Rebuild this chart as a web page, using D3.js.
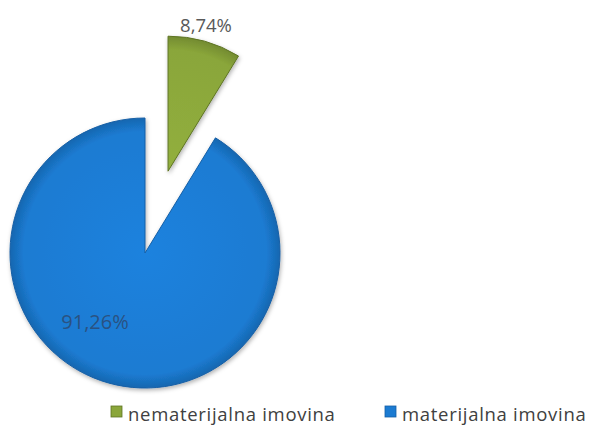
<!DOCTYPE html>
<html>
<head>
<meta charset="utf-8">
<script src="https://cdn.jsdelivr.net/npm/d3@7"></script>
<style>
  body { margin: 0; background: #fff; }
</style>
</head>
<body>
<div id="chart-area"></div>
<script>
// podaci
var categories = ["nematerijalna imovina", "materijalna imovina"];
var values = [8.74, 91.26];
var labels = ["8,74%", "91,26%"];
var colors = ["#8aa63a", "#1b7bd2"];
var edgeColors = ["#5e7423", "#155fa6"];

var width = 603, height = 428;
var cx = 145, cy = 253, radius = 135, explode = 85;

var svg = d3.select("#chart-area").append("svg")
    .attr("width", width)
    .attr("height", height)
    .style("font-family", "'Open Sans', sans-serif");

// gradijenti za malo "bevel" efekta
var defs = svg.append("defs");
colors.forEach(function(c, i) {
    var g = defs.append("radialGradient")
        .attr("id", "grad" + i)
        .attr("gradientUnits", "userSpaceOnUse")
        .attr("cx", 0).attr("cy", 0).attr("r", radius);
    g.append("stop").attr("offset", "0%").attr("stop-color", d3.color(c).brighter(0.15));
    g.append("stop").attr("offset", "90%").attr("stop-color", c);
    g.append("stop").attr("offset", "100%").attr("stop-color", d3.color(c).darker(0.5));
});
var shadow = defs.append("filter").attr("id", "shadow")
    .attr("x", "-20%").attr("y", "-20%").attr("width", "140%").attr("height", "140%");
shadow.append("feDropShadow").attr("dx", 1).attr("dy", 2).attr("stdDeviation", 2)
    .attr("flood-color", "#000").attr("flood-opacity", 0.3);

var pie = d3.pie().sort(null).value(function(d) { return d; });
var arcs = pie(values);
var arc = d3.arc().innerRadius(0).outerRadius(radius);

var g = svg.append("g").attr("transform", "translate(" + cx + "," + cy + ")");

var slices = g.selectAll("g.slice")
    .data(arcs)
    .enter().append("g")
    .attr("class", "slice")
    .attr("transform", function(d, i) {
        if (i !== 0) return null;
        var mid = (d.startAngle + d.endAngle) / 2;
        return "translate(" + (Math.sin(mid) * explode) + "," + (-Math.cos(mid) * explode) + ")";
    });

slices.append("path")
    .attr("d", arc)
    .attr("fill", function(d, i) { return "url(#grad" + i + ")"; })
    .attr("stroke", function(d, i) { return edgeColors[i]; })
    .attr("stroke-width", 1)
    .attr("filter", "url(#shadow)");

// oznake
slices.filter(function(d, i) { return i === 0; })
    .append("text")
    .attr("x", function(d) { return Math.sin((d.startAngle + d.endAngle) / 2) * (radius + 16) - 3; })
    .attr("y", function(d) { return -Math.cos((d.startAngle + d.endAngle) / 2) * (radius + 16) + 6; })
    .attr("text-anchor", "middle")
    .attr("font-size", 18.5)
    .attr("fill", "#595959")
    .text(labels[0]);

slices.filter(function(d, i) { return i === 1; })
    .append("text")
    .attr("x", -50)
    .attr("y", 76)
    .attr("text-anchor", "middle")
    .attr("font-size", 20)
    .attr("fill", "#2a5282")
    .text(labels[1]);

// legenda
var legendX = [111, 385];
var legend = svg.selectAll("g.legend")
    .data(categories)
    .enter().append("g")
    .attr("class", "legend")
    .attr("transform", function(d, i) { return "translate(" + legendX[i] + ",411)"; });

legend.append("rect")
    .attr("x", 0).attr("y", -5)
    .attr("width", 11).attr("height", 11)
    .attr("fill", function(d, i) { return colors[i]; })
    .attr("stroke", function(d, i) { return edgeColors[i]; })
    .attr("stroke-width", 0.8);

legend.append("text")
    .attr("x", 17)
    .attr("y", 10)
    .attr("font-size", 18.5)
    .attr("letter-spacing", 0.7)
    .attr("fill", "#404040")
    .text(function(d) { return d; });
</script>
</body>
</html>
